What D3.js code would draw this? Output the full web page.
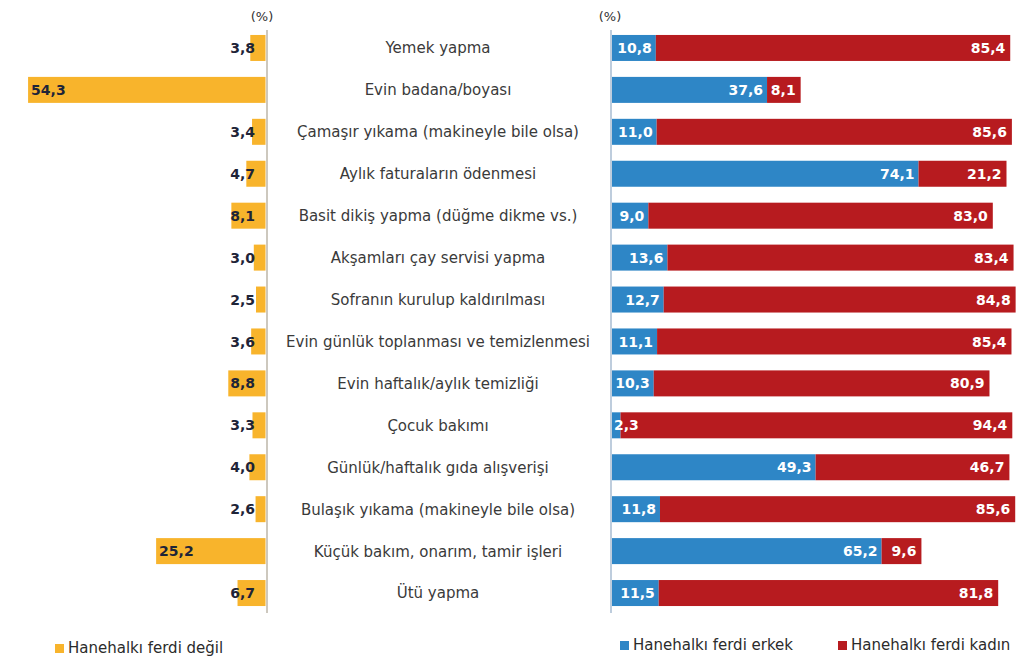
<!DOCTYPE html>
<html lang="tr">
<head>
  <meta charset="UTF-8">
  <title>Ev işleri</title>
  <style>
      body{
          margin:0;
          background:#fff;
      }
      svg text{
          font-family: "DejaVu Sans", Arial, sans-serif;
      }
      .cat{
          font-size:15px;
          fill:#3a3a3a;
      }
      .val{
          font-size:14px;
          font-weight:bold;
      }
      .leg{
          font-size:15px;
          fill:#2b2b2b;
      }
  </style>
</head>
<body>
    <svg width="1017" height="666"></svg>
    <script src="https://d3js.org/d3.v7.min.js"></script>
    <script>

        var categories = [
            "Yemek yapma",
            "Evin badana/boyası",
            "Çamaşır yıkama (makineyle bile olsa)",
            "Aylık faturaların ödenmesi",
            "Basit dikiş yapma (düğme dikme vs.)",
            "Akşamları çay servisi yapma",
            "Sofranın kurulup kaldırılması",
            "Evin günlük toplanması ve temizlenmesi",
            "Evin haftalık/aylık temizliği",
            "Çocuk bakımı",
            "Günlük/haftalık gıda alışverişi",
            "Bulaşık yıkama (makineyle bile olsa)",
            "Küçük bakım, onarım, tamir işleri",
            "Ütü yapma"
        ];
        var notMember = [3.8, 54.3, 3.4, 4.7, 8.1, 3.0, 2.5, 3.6, 8.8, 3.3, 4.0, 2.6, 25.2, 6.7];
        var male      = [10.8, 37.6, 11.0, 74.1, 9.0, 13.6, 12.7, 11.1, 10.3, 2.3, 49.3, 11.8, 65.2, 11.5];
        var female    = [85.4, 8.1, 85.6, 21.2, 83.0, 83.4, 84.8, 85.4, 80.9, 94.4, 46.7, 85.6, 9.6, 81.8];
        var legendLeft = ["Hanehalkı ferdi değil"];
        var legendRight = ["Hanehalkı ferdi erkek", "Hanehalkı ferdi kadın"];
        var unitLabel = "(%)";

        var cYellow = "#f8b42c", cBlue = "#2e86c6", cRed = "#b71b1f";

        var svg = d3.select("svg");
        var fmt = function(v) { return d3.format(".1f")(v).replace(".", ","); };

        var y = d3.scaleBand()
            .domain(categories)
            .range([27, 614])
            .paddingInner(0.38)
            .paddingOuter(0.19);

        // left panel grows to the left from its axis
        var xL = d3.scaleLinear().domain([0, 60]).range([267, 3]);
        // right panel: stacked male / female
        var xR = d3.scaleLinear().domain([0, 100]).range([611, 1026]);

        var rows = categories.map(function(c, i) {
            return {cat: c, nm: notMember[i], m: male[i], f: female[i]};
        });

        // left bars
        var gl = svg.append("g");
        gl.selectAll("rect")
            .data(rows)
            .enter().append("rect")
            .attr("x", function(d) { return xL(d.nm); })
            .attr("y", function(d) { return y(d.cat); })
            .attr("width", function(d) { return xL(0) - xL(d.nm) - 1.5; })
            .attr("height", y.bandwidth())
            .attr("fill", cYellow);

        gl.selectAll("text")
            .data(rows)
            .enter().append("text")
            .attr("class", "val")
            .attr("fill", "#1e2438")
            .attr("y", function(d) { return y(d.cat) + y.bandwidth() / 2; })
            .attr("dy", "0.36em")
            .text(function(d) { return fmt(d.nm); })
            .attr("x", function(d) {
                var w = this.getComputedTextLength();
                return Math.min(xL(d.nm) + 3, xL(0) - 12 - w);
            });

        svg.append("line")
            .attr("x1", xL(0)).attr("x2", xL(0))
            .attr("y1", 30).attr("y2", 613)
            .attr("stroke", "#bdb6a8").attr("stroke-width", 1.5);

        // right bars
        var gr = svg.append("g");
        gr.selectAll("rect.m")
            .data(rows)
            .enter().append("rect")
            .attr("class", "m")
            .attr("x", xR(0) + 1)
            .attr("y", function(d) { return y(d.cat); })
            .attr("width", function(d) { return xR(d.m) - xR(0) - 1; })
            .attr("height", y.bandwidth())
            .attr("fill", cBlue);

        gr.selectAll("rect.f")
            .data(rows)
            .enter().append("rect")
            .attr("class", "f")
            .attr("x", function(d) { return xR(d.m); })
            .attr("y", function(d) { return y(d.cat); })
            .attr("width", function(d) { return xR(d.m + d.f) - xR(d.m); })
            .attr("height", y.bandwidth())
            .attr("fill", cRed);

        gr.selectAll("text.m")
            .data(rows)
            .enter().append("text")
            .attr("class", "val m")
            .attr("fill", "#fff")
            .attr("text-anchor", "end")
            .attr("y", function(d) { return y(d.cat) + y.bandwidth() / 2; })
            .attr("dy", "0.36em")
            .text(function(d) { return fmt(d.m); })
            .attr("x", function(d) {
                var w = this.getComputedTextLength();
                return Math.max(xR(d.m) - 4, xR(0) + 3 + w);
            });

        gr.selectAll("text.f")
            .data(rows)
            .enter().append("text")
            .attr("class", "val f")
            .attr("fill", "#fff")
            .attr("text-anchor", "end")
            .attr("x", function(d) { return xR(d.m + d.f) - 5; })
            .attr("y", function(d) { return y(d.cat) + y.bandwidth() / 2; })
            .attr("dy", "0.36em")
            .text(function(d) { return fmt(d.f); });

        svg.append("line")
            .attr("x1", xR(0)).attr("x2", xR(0))
            .attr("y1", 30).attr("y2", 613)
            .attr("stroke", "#a9bdd2").attr("stroke-width", 1.5);

        // category labels in the middle
        svg.append("g").selectAll("text")
            .data(categories)
            .enter().append("text")
            .attr("class", "cat")
            .attr("text-anchor", "middle")
            .attr("x", 438)
            .attr("y", function(d) { return y(d) + y.bandwidth() / 2; })
            .attr("dy", "0.36em")
            .text(function(d) { return d; });

        // (%) labels
        svg.append("text").attr("x", xL(0) - 5).attr("y", 16).attr("dy", "0.36em")
            .attr("text-anchor", "middle").style("font-size", "13px").attr("fill", "#333")
            .text(unitLabel);
        svg.append("text").attr("x", xR(0) - 1).attr("y", 16).attr("dy", "0.36em")
            .attr("text-anchor", "middle").style("font-size", "13px").attr("fill", "#333")
            .text(unitLabel);

        // legends
        var legItems = [
            {label: legendLeft[0], color: cYellow, x: 55, y: 648},
            {label: legendRight[0], color: cBlue, x: 620, y: 645},
            {label: legendRight[1], color: cRed, x: 838, y: 645}
        ];
        var lg = svg.append("g").selectAll("g")
            .data(legItems)
            .enter().append("g")
            .attr("transform", function(d) { return "translate(" + d.x + "," + d.y + ")"; });
        lg.append("rect")
            .attr("x", 0).attr("y", -4)
            .attr("width", 9).attr("height", 9)
            .attr("fill", function(d) { return d.color; });
        lg.append("text")
            .attr("class", "leg")
            .attr("x", 13)
            .attr("dy", "0.36em")
            .text(function(d) { return d.label; });

    </script>
</body>
</html>
